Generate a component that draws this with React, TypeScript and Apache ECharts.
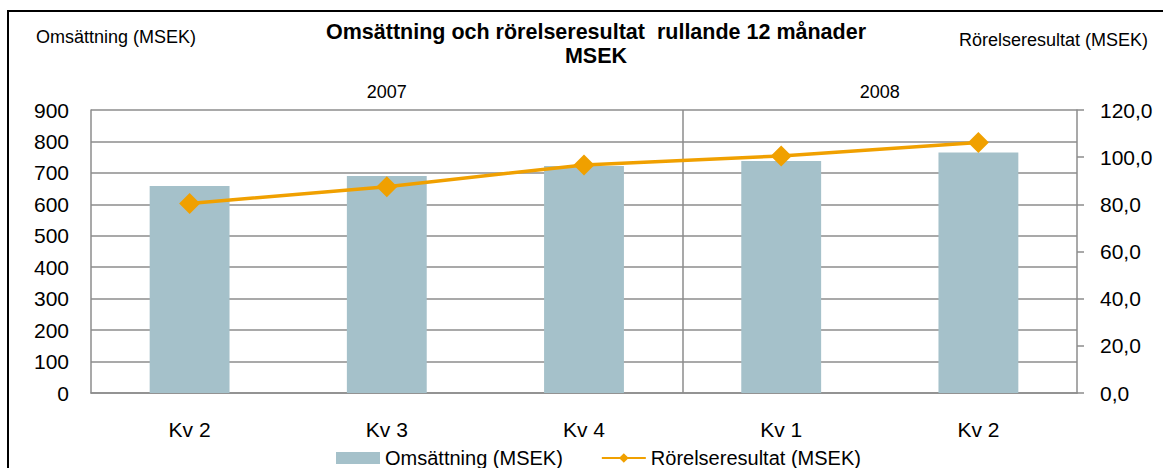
import React, { useEffect, useRef } from "react";
import * as echarts from "echarts";

const categories = ["Kv 2", "Kv 3", "Kv 4", "Kv 1", "Kv 2"];
const omsattning = [658, 690, 722, 738, 765];
const rorelseresultat = [80.4, 87.5, 96.7, 100.5, 106.2];
// half-quarter slots on the top axis: year labels centred over their quarters
const yearSlots = ["", "", "", "2007", "", "", "", "", "2008", "", ""];
const yearBoundarySlot = 6;

const seriesNames = ["Omsättning (MSEK)", "Rörelseresultat (MSEK)"];
const chartTitle = "Omsättning och rörelseresultat  rullande 12 månader\nMSEK";
const leftAxisName = "Omsättning (MSEK)";
const rightAxisName = "Rörelseresultat (MSEK)";

const FONT = "'Liberation Sans', Arial, sans-serif";
const GRID_COLOR = "#8c8c8c";

export default function App() {
  const ref = useRef<HTMLDivElement>(null);

  useEffect(() => {
    if (!ref.current) return;
    const chart = echarts.init(ref.current, undefined, { renderer: "svg" });
    const lineStyle = { color: GRID_COLOR, width: 1.5 };
    chart.setOption({
      animation: false,
      backgroundColor: "#ffffff",
      textStyle: { fontFamily: FONT },
      title: [
        {
          text: chartTitle,
          left: 591,
          textAlign: "center",
          top: 15,
          textStyle: {
            fontFamily: FONT,
            fontSize: 21.5,
            fontWeight: "bold",
            color: "#000",
            lineHeight: 24,
          },
        },
        {
          text: leftAxisName,
          left: 31,
          top: 23,
          textStyle: { fontFamily: FONT, fontSize: 18, fontWeight: "normal", color: "#000" },
        },
        {
          text: rightAxisName,
          right: 10,
          top: 26,
          textStyle: { fontFamily: FONT, fontSize: 18, fontWeight: "normal", color: "#000" },
        },
      ],
      graphic: [
        {
          type: "rect",
          shape: { x: 8, y: 11, width: 1300, height: 600 },
          style: { fill: "none", stroke: "#000", lineWidth: 2 },
          silent: true,
        },
      ],
      legend: {
        data: [{ name: seriesNames[0], icon: "rect" }, { name: seriesNames[1] }],
        left: 331,
        top: 443,
        itemWidth: 44,
        itemHeight: 12,
        itemGap: 38,
        textStyle: { fontFamily: FONT, fontSize: 20, color: "#000" },
      },
      grid: { left: 91, right: 86, top: 110, bottom: 75, containLabel: false },
      xAxis: [
        {
          type: "category",
          data: categories,
          position: "bottom",
          axisLine: { show: true, lineStyle },
          axisTick: { show: false },
          axisLabel: { color: "#000", fontSize: 21, margin: 26, fontFamily: FONT, interval: 0 },
          splitLine: { show: false },
        },
        {
          type: "category",
          data: yearSlots,
          position: "top",
          boundaryGap: false,
          axisLine: { show: false },
          axisTick: { show: false },
          axisLabel: { color: "#000", fontSize: 18, margin: 9, fontFamily: FONT, interval: 0 },
          splitLine: {
            show: true,
            interval: (i: number) => i === yearBoundarySlot,
            lineStyle,
          },
        },
      ],
      yAxis: [
        {
          type: "value",
          min: 0,
          max: 900,
          interval: 100,
          axisLine: { show: true, lineStyle },
          axisTick: { show: false },
          splitLine: { show: true, lineStyle },
          axisLabel: { color: "#000", fontSize: 21, margin: 22, fontFamily: FONT },
        },
        {
          type: "value",
          min: 0,
          max: 120,
          interval: 20,
          position: "right",
          axisLine: { show: true, lineStyle },
          axisTick: { show: true, length: 7, lineStyle },
          splitLine: { show: false },
          axisLabel: {
            color: "#000",
            fontSize: 21,
            margin: 23,
            fontFamily: FONT,
            formatter: (v: number) => v.toFixed(1).replace(".", ","),
          },
        },
      ],
      series: [
        {
          name: seriesNames[0],
          type: "bar",
          xAxisIndex: 0,
          yAxisIndex: 0,
          data: omsattning,
          barWidth: "40.5%",
          itemStyle: { color: "#a5c1ca" },
        },
        {
          name: seriesNames[1],
          type: "line",
          xAxisIndex: 0,
          yAxisIndex: 1,
          data: rorelseresultat,
          symbol: "diamond",
          symbolSize: 21,
          lineStyle: { color: "#f0a000", width: 3.5 },
          itemStyle: { color: "#f0a000" },
        },
      ],
    });
    return () => chart.dispose();
  }, []);

  return (
    <div
      ref={ref}
      style={{ position: "fixed", left: 0, top: 0, width: 1163, height: 468, background: "#fff" }}
    />
  );
}
